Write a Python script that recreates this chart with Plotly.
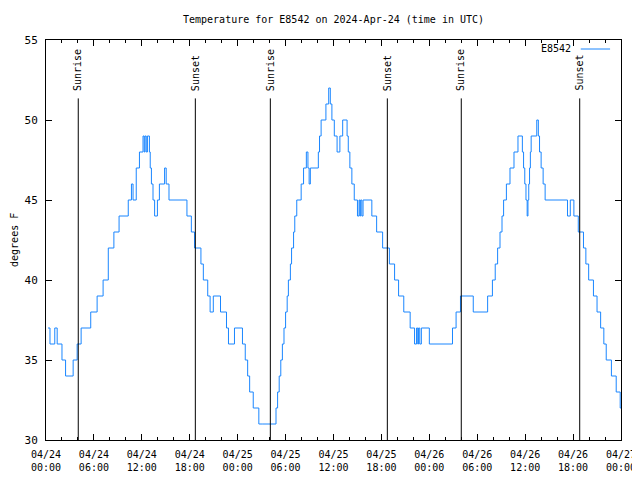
import pandas as pd
import plotly.graph_objects as go

# Hours since 2024-04-24 00:00 UTC at which the reading changed, and the new reading (deg F)
hours = [0.25, 0.5, 1.1, 1.4, 2.0, 2.45, 3.4, 3.9, 4.4, 5.6, 6.4, 7.15, 7.8, 8.5, 9.15,
         10.3, 10.7, 10.9, 11.3, 11.7, 12.15, 12.3, 12.4, 12.55, 12.7, 12.95, 13.05, 13.2,
         13.4, 13.6, 13.95, 14.2, 14.85, 15.05, 15.4, 17.65, 18.2, 18.6, 19.4, 19.7, 20.25,
         20.55, 20.95, 21.85, 22.6, 22.85, 23.6, 24.6, 24.95, 25.25, 25.5, 25.95, 26.65,
         27.15, 28.8, 29.0, 29.2, 29.4, 29.6, 29.8, 30.0, 30.2, 30.35, 30.6, 30.75, 31.0,
         31.15, 31.4, 31.95, 32.25, 32.6, 32.8, 32.95, 33.1, 34.1, 34.25, 34.45, 35.05,
         35.4, 35.6, 35.8, 36.1, 36.45, 36.8, 37.15, 37.7, 37.85, 38.05, 38.3, 38.6, 39.0,
         39.2, 39.3, 39.4, 39.55, 39.7, 40.8, 41.4, 42.15, 43.0, 43.65, 44.15, 44.8, 45.6,
         46.15, 46.4, 46.55, 46.65, 46.8, 47.0, 48.0, 50.9, 51.35, 51.9, 53.5, 55.3, 55.9,
         56.25, 56.55, 56.85, 57.1, 57.3, 57.65, 58.1, 58.6, 59.1, 59.65, 59.8, 59.95,
         60.1, 60.25, 60.35, 60.45, 60.55, 60.65, 60.75, 61.45, 61.65, 61.8, 62.0, 62.25,
         62.5, 65.3, 65.65, 66.1, 66.65, 67.3, 67.6, 67.95, 68.55, 69.0, 69.45, 69.85,
         70.15, 70.8, 71.4, 71.9, 72.0]
temps = [37, 36, 37, 36, 35, 34, 35, 36, 37, 38, 39, 40, 42, 43, 44,
         45, 46, 45, 47, 48, 49, 48, 49, 48, 49, 48, 47, 46,
         45, 44, 45, 46, 47, 46, 45, 44, 43, 42, 41, 40, 39,
         38, 39, 38, 37, 36, 37, 36, 35, 34, 33, 32, 31,
         31, 32, 33, 34, 35, 36, 37, 38, 39, 40, 41, 42, 43,
         44, 45, 46, 47, 48, 47, 46, 47, 48, 49, 50, 51,
         52, 51, 50, 49, 48, 49, 50, 49, 48, 47, 46, 45, 44,
         45, 44, 45, 44, 45, 44, 43, 42, 41, 40, 39, 38, 37,
         36, 37, 36, 37, 36, 37, 36, 37, 38, 39, 38, 39, 40,
         41, 42, 43, 44, 45, 46, 47, 48, 49, 48, 47, 46,
         45, 44, 45, 46, 47, 48, 49, 50, 49, 48, 47, 46,
         45, 44, 45, 44, 43, 42, 41, 40, 39, 38, 37, 36,
         35, 34, 33, 32, 32]

# Sun events (hours since start)
sun_hours = [4.04, 18.7, 28.09, 42.74, 52.0, 66.83]
sun_labels = ["Sunrise", "Sunset", "Sunrise", "Sunset", "Sunrise", "Sunset"]

# X tick labels every 6 hours
tick_hours = [0, 6, 12, 18, 24, 30, 36, 42, 48, 54, 60, 66, 72]
tick_labels = ["04/24<br>00:00", "04/24<br>06:00", "04/24<br>12:00", "04/24<br>18:00",
               "04/25<br>00:00", "04/25<br>06:00", "04/25<br>12:00", "04/25<br>18:00",
               "04/26<br>00:00", "04/26<br>06:00", "04/26<br>12:00", "04/26<br>18:00",
               "04/27<br>00:00"]

base = pd.Timestamp("2024-04-24 00:00")
def t(h):
    return base + pd.Timedelta(hours=h)

xs = [t(h) for h in hours]
FONT = "DejaVu Sans Mono"
LINE_COLOR = "#1a86ff"

fig = go.Figure()
fig.add_trace(go.Scatter(x=xs, y=temps, mode="lines", line=dict(color=LINE_COLOR, width=1, shape="hv"),
                         name="E8542", showlegend=False))

for h, lab in zip(sun_hours, sun_labels):
    fig.add_shape(type="line", x0=t(h), x1=t(h), xref="x", y0=0, y1=0.854, yref="paper",
                  line=dict(color="black", width=1))
    fig.add_annotation(x=t(h), xref="x", y=0.868, yref="paper", text=lab, textangle=-90,
                       showarrow=False, xanchor="center", yanchor="bottom",
                       font=dict(family=FONT, size=10, color="black"))

# legend (gnuplot style: text then sample)
fig.add_annotation(x=0.9165, xref="paper", y=0.9775, yref="paper", text="E8542", showarrow=False,
                   xanchor="right", yanchor="middle", font=dict(family=FONT, size=10, color="black"))
fig.add_shape(type="line", x0=0.930, x1=0.981, xref="paper", y0=0.9775, y1=0.9775, yref="paper",
              line=dict(color=LINE_COLOR, width=1))

# title and y label as annotations (fixed positions)
fig.add_annotation(x=0.5, xref="paper", y=1.0525, yref="paper",
                   text="Temperature for E8542 on 2024-Apr-24 (time in UTC)", showarrow=False,
                   xanchor="center", yanchor="middle", font=dict(family=FONT, size=10, color="black"))
fig.add_annotation(x=-0.0557, xref="paper", y=0.5, yref="paper", text="degrees F", textangle=-90,
                   showarrow=False, xanchor="center", yanchor="middle", borderpad=0,
                   font=dict(family=FONT, size=10, color="black"))

# page body has an 8px margin, so the figure is 632x472 and offsets compensate
fig.update_layout(
    width=632, height=472,
    margin=dict(l=38, r=19, t=32, b=40, autoexpand=False),
    paper_bgcolor="white", plot_bgcolor="white",
    font=dict(family=FONT, size=10, color="black"),
    showlegend=False,
)
fig.update_xaxes(range=[t(0), t(72)], tickvals=[t(h) for h in tick_hours], ticktext=tick_labels,
                 automargin=False,
                 showgrid=False, zeroline=False, showline=True, linecolor="black", linewidth=1,
                 mirror="ticks", ticks="inside", ticklen=6, tickcolor="black",
                 minor=dict(ticks="inside", ticklen=3, tickcolor="black", dtick=2 * 3600 * 1000, showgrid=False),
                 ticklabelstandoff=5,
                 tickfont=dict(family=FONT, size=10))
fig.update_yaxes(range=[30, 55], dtick=5, showgrid=False, zeroline=False, showline=True, linecolor="black",
                 automargin=False,
                 linewidth=1, mirror="ticks", ticks="inside", ticklen=6, tickcolor="black",
                 ticklabelstandoff=5,
                 tickfont=dict(family=FONT, size=11))

fig.write_html("out.html")
